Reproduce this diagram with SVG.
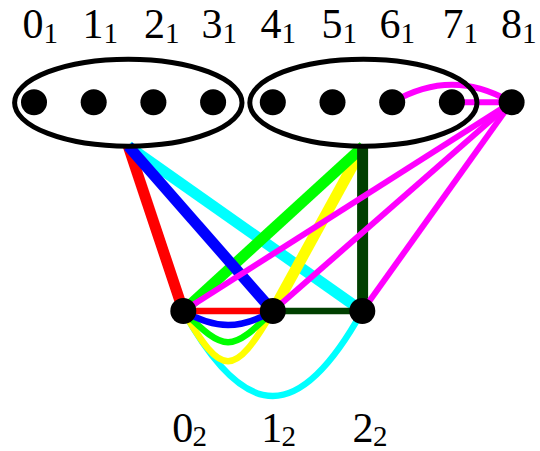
<svg xmlns="http://www.w3.org/2000/svg" width="540" height="451" viewBox="0 0 540 451">
<style>
.e{fill:none;stroke-linecap:butt}
.thick{stroke-width:11}
.thin{stroke-width:6.5}
.mag{stroke:#ff00ff;stroke-width:6}
.grp{fill:none;stroke:#000;stroke-width:5}
.dot{fill:#000}
.lbl{font-family:"Liberation Serif","DejaVu Serif",serif;font-size:42px;fill:#000;text-anchor:middle}
.sub{font-family:"Liberation Serif","DejaVu Serif",serif;font-size:29px;fill:#000}
</style>
<g id="edges">
<line class="e thick" x1="128.3" y1="146.2" x2="183.3" y2="311" stroke="#ff0000"/>
<line class="e thick" x1="128.3" y1="146.2" x2="362.3" y2="311" stroke="#00ffff"/>
<line class="e thick" x1="363.4" y1="146.2" x2="272.8" y2="311" stroke="#ffff00"/>
<line class="e thick" x1="363.4" y1="146.2" x2="183.3" y2="311" stroke="#00ff00"/>
<line class="e thick" x1="362.6" y1="146.2" x2="362.6" y2="311" stroke="#004000"/>
<line class="e thick" x1="128.3" y1="146.2" x2="272.8" y2="311" stroke="#0000ff"/>
<line class="e mag" x1="511.6" y1="102.2" x2="183.3" y2="311"/>
<line class="e mag" x1="511.6" y1="102.2" x2="272.8" y2="311"/>
<line class="e mag" x1="511.6" y1="102.2" x2="362.3" y2="311"/>
<line class="e mag" x1="451.9" y1="102.2" x2="511.6" y2="102.2"/>
<path class="e mag" d="M392.2,102.2 C433,78.8 471,78.8 511.6,102.2"/>
<line class="e thin" x1="183.3" y1="311" x2="272.8" y2="311" stroke="#ff0000"/>
<line class="e thin" x1="272.8" y1="311" x2="362.3" y2="311" stroke="#004000"/>
<path class="e thin" d="M183.3,311 C246,424.3 299.5,424.3 362.3,311" stroke="#00ffff"/>
<path class="e thin" d="M183.3,311 C222,378 234,378 272.8,311" stroke="#ffff00"/>
<path class="e thin" d="M183.3,311 C224.9,352.6 231.2,352.6 272.8,311" stroke="#00ff00"/>
<path class="e thin" d="M183.3,311 C215.7,329.7 240.4,329.7 272.8,311" stroke="#0000ff"/>
</g>
<g id="group1"><ellipse class="grp" cx="128.3" cy="102.7" rx="113.7" ry="43.5"/></g>
<g id="group2"><ellipse class="grp" cx="363.4" cy="102.7" rx="113.6" ry="43.5"/></g>
<g id="v0_1"><circle class="dot" cx="34" cy="102.2" r="13"/><text class="lbl" x="33" y="38">0</text><text class="sub" x="43.5" y="43">1</text></g>
<g id="v1_1"><circle class="dot" cx="93.7" cy="102.2" r="13"/><text class="lbl" x="93" y="38">1</text><text class="sub" x="103.5" y="43">1</text></g>
<g id="v2_1"><circle class="dot" cx="153.4" cy="102.2" r="13"/><text class="lbl" x="154.5" y="38">2</text><text class="sub" x="165" y="43">1</text></g>
<g id="v3_1"><circle class="dot" cx="213.1" cy="102.2" r="13"/><text class="lbl" x="212" y="38">3</text><text class="sub" x="222.5" y="43">1</text></g>
<g id="v4_1"><circle class="dot" cx="272.8" cy="102.2" r="13"/><text class="lbl" x="271" y="38">4</text><text class="sub" x="281.5" y="43">1</text></g>
<g id="v5_1"><circle class="dot" cx="332.5" cy="102.2" r="13"/><text class="lbl" x="332" y="38">5</text><text class="sub" x="342.5" y="43">1</text></g>
<g id="v6_1"><circle class="dot" cx="392.2" cy="102.2" r="13"/><text class="lbl" x="390" y="38">6</text><text class="sub" x="400.5" y="43">1</text></g>
<g id="v7_1"><circle class="dot" cx="451.9" cy="102.2" r="13"/><text class="lbl" x="453" y="38">7</text><text class="sub" x="463.5" y="43">1</text></g>
<g id="v8_1"><circle class="dot" cx="511.6" cy="102.2" r="13"/><text class="lbl" x="511.5" y="38">8</text><text class="sub" x="522" y="43">1</text></g>
<g id="u0_2"><circle class="dot" cx="183.3" cy="311" r="13"/><text class="lbl" x="182.7" y="441.5">0</text><text class="sub" x="192.5" y="445.5">2</text></g>
<g id="u1_2"><circle class="dot" cx="272.8" cy="311" r="13"/><text class="lbl" x="271.7" y="441.5">1</text><text class="sub" x="281.5" y="445.5">2</text></g>
<g id="u2_2"><circle class="dot" cx="362.3" cy="311" r="13"/><text class="lbl" x="363" y="441.5">2</text><text class="sub" x="373" y="445.5">2</text></g>
</svg>
